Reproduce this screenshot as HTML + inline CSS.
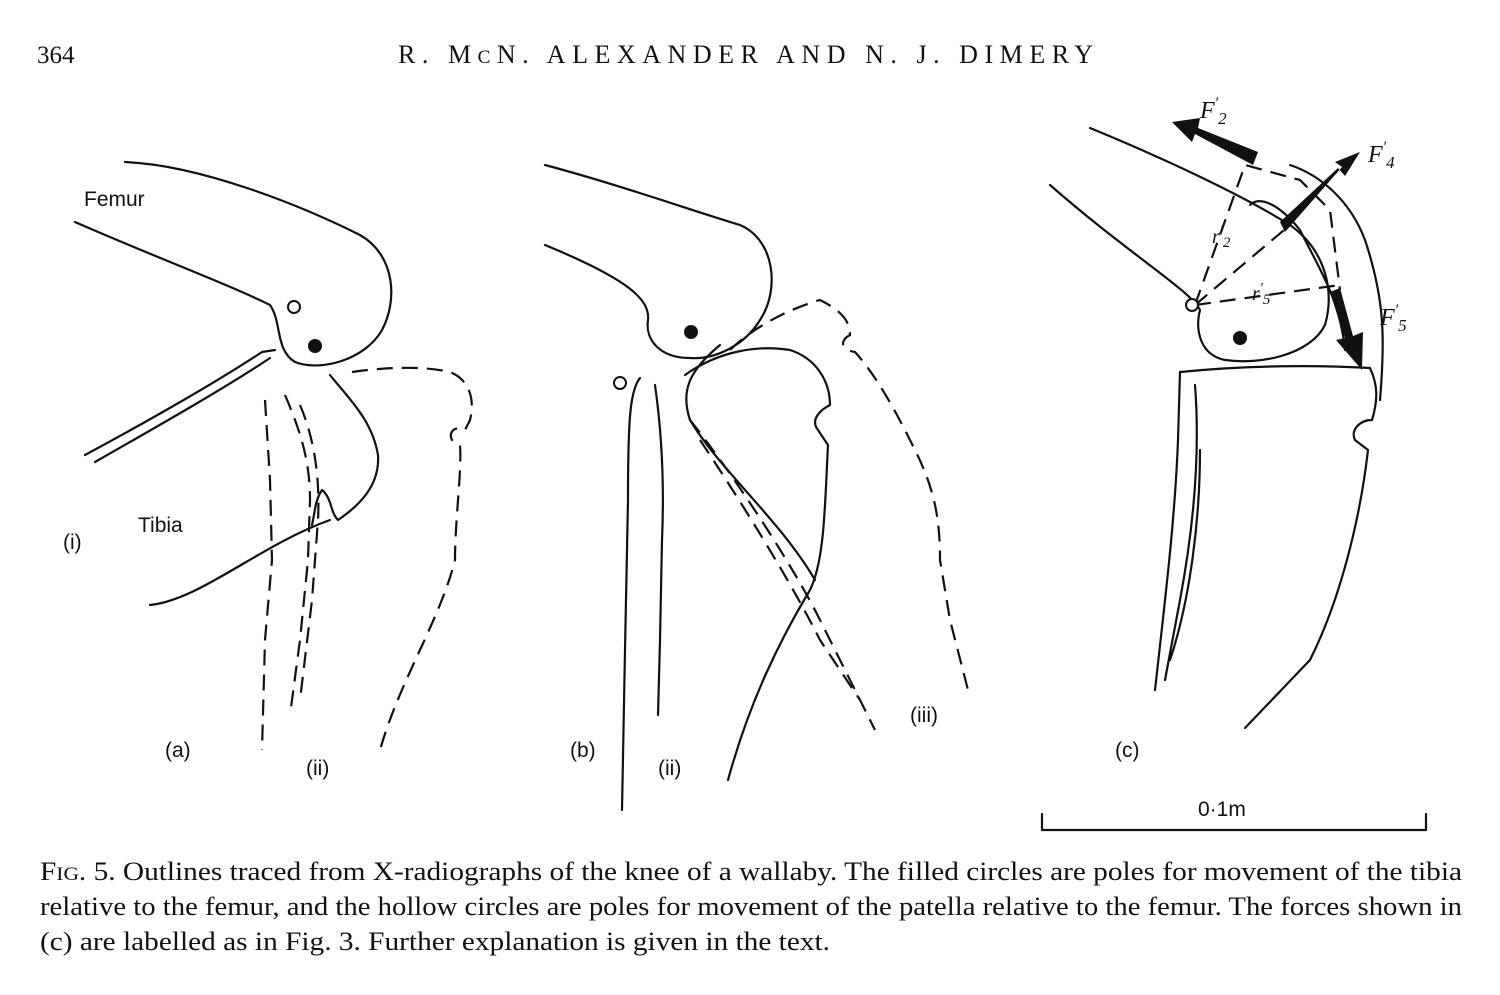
<!DOCTYPE html>
<html><head><meta charset="utf-8"><style>
html,body{margin:0;padding:0;background:#fff;}
svg{display:block}
.s{fill:none;stroke:#111;stroke-width:2.2;stroke-linecap:round;stroke-linejoin:round}
.d{fill:none;stroke:#111;stroke-width:2.2;stroke-dasharray:16 9}
.serif{font-family:"Liberation Serif",serif;fill:#111}
.sans{font-family:"Liberation Sans",sans-serif;fill:#111;font-size:21px}
.it{font-family:"Liberation Serif",serif;font-style:italic;fill:#111}
</style></head><body>
<svg width="1500" height="995" viewBox="0 0 1500 995" xmlns="http://www.w3.org/2000/svg">
<text x="37" y="63" class="serif" font-size="25">364</text>
<text x="398" y="63" class="serif" font-size="26" textLength="695" lengthAdjust="spacing">R. M<tspan font-size="19">C</tspan>N. ALEXANDER AND N. J. DIMERY</text>

<!-- panel a -->
<text x="84" y="206" class="sans">Femur</text>
<path class="s" d="M125,162 C200,165 300,205 360,235 C395,255 398,300 382,330 C365,360 320,372 295,362 C275,350 282,322 270,305 C230,285 150,255 75,222"/>
<path class="s" d="M85,455 C150,420 220,380 262,352 L275,350 M95,462 C160,425 230,385 270,358"/>
<path class="s" d="M330,375 C350,400 372,420 378,455 C380,485 360,505 338,520 C330,512 332,498 322,490 C315,500 315,512 312,525 M150,605 C200,600 260,545 330,520"/>
<path class="d" d="M352,372 C380,368 420,365 450,372 C470,380 475,400 470,420 L465,430 C455,425 448,432 452,440 L460,445 C462,470 455,520 455,560 C440,620 400,680 380,750"/>
<path class="d" d="M265,400 L270,480 L272,560 L265,640 L262,750"/>
<path class="d" d="M285,395 C300,430 310,460 310,500 L308,560 L300,640 L290,715"/>
<path class="d" d="M300,405 C315,440 320,480 318,520 L312,600 L300,700"/>
<circle cx="294" cy="307" r="6" fill="#fff" stroke="#111" stroke-width="2"/>
<circle cx="315" cy="346" r="7" fill="#111"/>
<text x="138" y="532" class="sans">Tibia</text>
<text x="63" y="549" class="sans">(i)</text>
<text x="165" y="757" class="sans">(a)</text>
<text x="306" y="775" class="sans">(ii)</text>

<!-- panel b -->
<path class="s" d="M545,165 C620,185 690,210 740,225 C775,240 780,290 760,320 C745,345 715,360 690,358 C660,358 645,340 648,320 C650,300 630,280 545,245"/>
<path class="s" d="M640,378 C630,390 628,420 628,500 L625,650 L622,810 M655,385 C660,420 665,470 662,540 L660,640 L658,715 M685,375 C720,350 760,345 790,350 C815,358 830,380 830,405 C820,410 810,420 818,430 L828,445 C825,500 825,560 810,590 C780,640 750,700 728,780"/>
<path class="s" d="M720,345 C690,370 680,390 690,420 C720,470 780,520 815,580"/>
<path class="d" d="M730,350 C750,330 785,310 820,300 C840,310 850,320 850,335 C840,340 840,350 855,352 C880,380 900,420 915,450 C935,490 940,520 940,560 L950,620 L968,690"/>
<path class="d" d="M690,420 C730,470 790,560 820,620 L875,730 M700,440 C740,500 790,580 820,640 L860,700"/>
<circle cx="620" cy="383" r="6" fill="#fff" stroke="#111" stroke-width="2"/>
<circle cx="691" cy="332" r="7" fill="#111"/>
<text x="570" y="757" class="sans">(b)</text>
<text x="658" y="775" class="sans">(ii)</text>
<text x="910" y="722" class="sans">(iii)</text>

<!-- panel c -->
<path class="s" d="M1090,128 C1180,165 1250,200 1290,225 C1325,250 1335,290 1325,325 C1310,355 1260,365 1225,360 C1200,355 1195,330 1200,310 C1190,290 1130,255 1050,185"/>
<path class="s" d="M1250,205 C1260,195 1280,205 1300,230 C1320,270 1340,300 1345,350"/>
<path class="s" d="M1290,165 C1320,175 1350,200 1365,240 C1385,300 1385,340 1380,400"/>
<path class="s" d="M1180,372 C1250,365 1320,365 1370,368 C1378,385 1378,400 1372,420 C1360,420 1350,430 1355,440 L1368,450 C1360,520 1340,600 1310,660 L1245,728"/>
<path class="s" d="M1180,372 L1178,440 C1175,520 1165,600 1155,690 M1195,385 C1200,450 1195,520 1180,600 L1165,680 M1200,450 C1200,520 1190,600 1170,660"/>
<path class="d" d="M1195,305 L1245,165 L1300,180 L1330,210 L1340,290 M1195,305 L1290,225 M1195,305 L1340,285" stroke-dasharray="12 8"/>
<polygon points="1258,152 1198,128 1200,118 1172,122 1192,142 1195,134 1253,165" fill="#111"/>
<polygon points="1280,222 1338,168 1345,176 1360,152 1335,162 1342,167 1285,232" fill="#111"/>
<polygon points="1330,292 1345,338 1336,340 1362,370 1363,332 1353,336 1340,288" fill="#111"/>
<circle cx="1192" cy="305" r="6" fill="#fff" stroke="#111" stroke-width="2"/>
<circle cx="1240" cy="338" r="7" fill="#111"/>
<text x="1200" y="118" class="it" font-size="24">F<tspan font-size="16" dy="-10">′</tspan><tspan font-size="17" dy="16">2</tspan></text>
<text x="1368" y="162" class="it" font-size="24">F<tspan font-size="16" dy="-10">′</tspan><tspan font-size="17" dy="16">4</tspan></text>
<text x="1380" y="325" class="it" font-size="24">F<tspan font-size="16" dy="-10">′</tspan><tspan font-size="17" dy="16">5</tspan></text>
<text x="1212" y="243" class="it" font-size="20">r<tspan font-size="14" dy="-8">′</tspan><tspan font-size="15" dy="12">2</tspan></text>
<text x="1252" y="300" class="it" font-size="20">r<tspan font-size="14" dy="-8">′</tspan><tspan font-size="15" dy="12">5</tspan></text>
<text x="1115" y="757" class="sans">(c)</text>
<path class="s" d="M1042,814 L1042,830 L1426,830 L1426,814"/>
<text x="1198" y="816" class="sans">0·1m</text>

<!-- caption -->
<text x="40" y="880" class="serif" font-size="26" textLength="1422" lengthAdjust="spacingAndGlyphs">F<tspan font-size="19">IG</tspan>. 5. Outlines traced from X-radiographs of the knee of a wallaby. The filled circles are poles for movement of the tibia</text>
<text x="40" y="915" class="serif" font-size="26" textLength="1422" lengthAdjust="spacingAndGlyphs">relative to the femur, and the hollow circles are poles for movement of the patella relative to the femur. The forces shown in</text>
<text x="40" y="950" class="serif" font-size="26" textLength="790" lengthAdjust="spacingAndGlyphs">(c) are labelled as in Fig. 3. Further explanation is given in the text.</text>
</svg>
</body></html>
